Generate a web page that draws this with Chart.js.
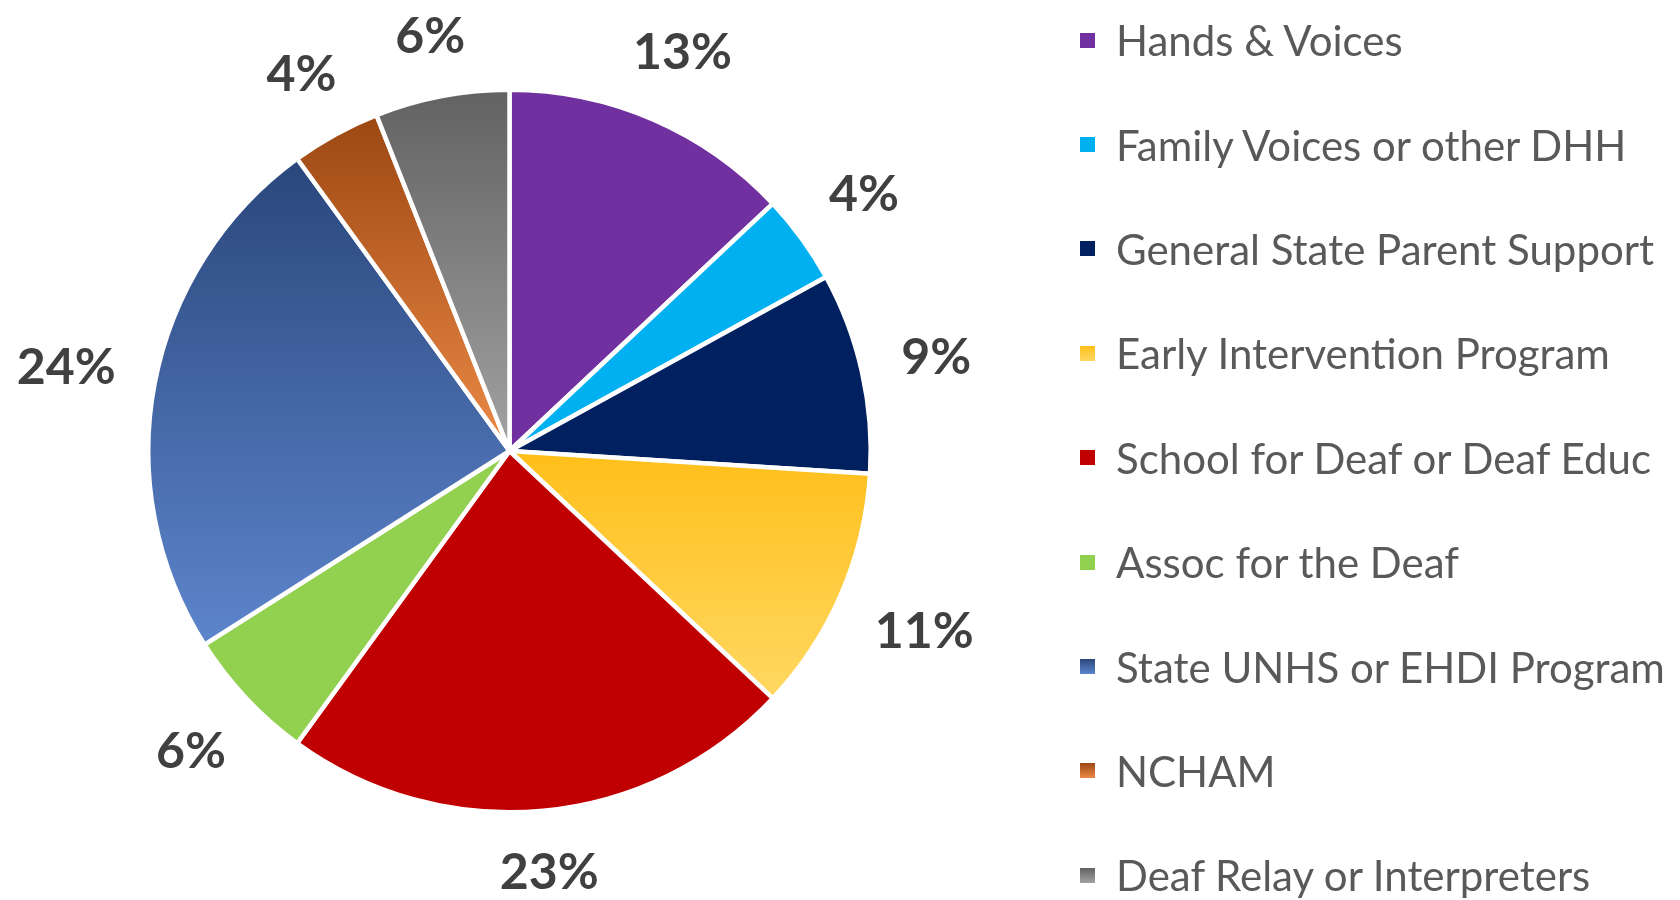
<!DOCTYPE html>
<html>
<head>
<meta charset="utf-8">
<script src="https://cdn.jsdelivr.net/npm/chart.js@4/dist/chart.umd.min.js"></script>
<style>
  html, body { margin: 0; padding: 0; background: #fff; overflow: hidden; }
  #wrap { position: relative; width: 1680px; height: 900px; }
  #pie { position: absolute; left: 0; top: 0; }
  #legend { position: absolute; left: 1080px; top: -12px; margin: 0; padding: 0; list-style: none; }
  #legend li { height: 104.4px; display: flex; align-items: center; font-family: Lato, "Noto Sans", sans-serif;
               font-size: 42px; color: #595959; white-space: nowrap; }
  #legend .box { width: 15px; height: 15px; margin-right: 21px; flex: none; }
</style>
</head>
<body>
<div id="wrap">
  <canvas id="pie" width="1680" height="900"></canvas>
  <ul id="legend"></ul>
</div>
<script>
// categories and shares (%)
const categories = [
  "Hands & Voices",
  "Family Voices or other DHH",
  "General State Parent Support",
  "Early Intervention Program",
  "School for Deaf or Deaf Educ",
  "Assoc for the Deaf",
  "State UNHS or EHDI Program",
  "NCHAM",
  "Deaf Relay or Interpreters"
];
const shares = [13, 4, 9, 11, 23, 6, 24, 4, 6];

// slice colours: top and bottom of each slice's vertical gradient
const colorsTop    = ["#7030A0", "#00B0F0", "#002060", "#FFBF1A", "#C00000", "#92D050", "#2A477C", "#9C4712", "#626262"];
const colorsBottom = ["#7030A0", "#00B0F0", "#002060", "#FFD862", "#C00000", "#92D050", "#5D85CC", "#EC8A46", "#A2A2A2"];

// vertical gradient over each slice's bounding box
const gradientFill = {
  id: 'gradientFill',
  beforeDatasetsDraw(chart) {
    const ctx = chart.ctx;
    chart.getDatasetMeta(0).data.forEach((arc, i) => {
      const p = arc.getProps(['x', 'y', 'startAngle', 'endAngle', 'outerRadius'], true);
      let top = p.y, bottom = p.y;
      [p.startAngle, p.endAngle].forEach(a => {
        const y = p.y + Math.sin(a) * p.outerRadius;
        top = Math.min(top, y);
        bottom = Math.max(bottom, y);
      });
      const has = a => {
        for (let k = -2; k <= 2; k++) {
          const t = a + k * 2 * Math.PI;
          if (t >= p.startAngle && t <= p.endAngle) return true;
        }
        return false;
      };
      if (has(-Math.PI / 2)) top = p.y - p.outerRadius;
      if (has(Math.PI / 2)) bottom = p.y + p.outerRadius;
      const g = ctx.createLinearGradient(0, top, 0, bottom);
      g.addColorStop(0, colorsTop[i]);
      g.addColorStop(1, colorsBottom[i]);
      arc.options.backgroundColor = g;
    });
  }
};

// percentage labels just outside each slice
const outsideLabels = {
  id: 'outsideLabels',
  afterDatasetsDraw(chart) {
    const ctx = chart.ctx;
    const values = chart.data.datasets[0].data;
    ctx.save();
    ctx.font = 'bold 50px Lato, "Noto Sans", sans-serif';
    ctx.fillStyle = '#404040';
    ctx.textAlign = 'center';
    ctx.textBaseline = 'alphabetic';
    const capH = 36;
    chart.getDatasetMeta(0).data.forEach((arc, i) => {
      const p = arc.getProps(['x', 'y', 'startAngle', 'endAngle', 'outerRadius'], true);
      const mid = (p.startAngle + p.endAngle) / 2;
      const dx = Math.cos(mid), dy = Math.sin(mid);
      const text = values[i] + '%';
      const w = ctx.measureText(text).width;
      const dist = p.outerRadius + 38 + Math.abs(dx) * w / 2 + Math.abs(dy) * capH / 2;
      ctx.fillText(text, p.x + dx * dist, p.y + dy * dist + capH / 2);
    });
    ctx.restore();
  }
};

// html legend built from the chart's own legend items
const htmlLegend = {
  id: 'htmlLegend',
  afterUpdate(chart) {
    const ul = document.getElementById('legend');
    ul.innerHTML = '';
    const items = chart.options.plugins.legend.labels.generateLabels(chart);
    items.forEach(item => {
      const li = document.createElement('li');
      const box = document.createElement('span');
      box.className = 'box';
      box.style.background = `linear-gradient(${colorsTop[item.index]}, ${colorsBottom[item.index]})`;
      li.appendChild(box);
      li.appendChild(document.createTextNode(item.text));
      ul.appendChild(li);
    });
  }
};

new Chart(document.getElementById('pie'), {
  type: 'pie',
  data: {
    labels: categories,
    datasets: [{
      data: shares,
      backgroundColor: colorsTop,
      borderColor: '#ffffff',
      borderWidth: 4.5
    }]
  },
  options: {
    responsive: false,
    animation: false,
    layout: { padding: { left: 146, right: 807, top: 87, bottom: 85 } },
    plugins: {
      legend: { display: false },
      tooltip: { enabled: false }
    }
  },
  plugins: [gradientFill, outsideLabels, htmlLegend]
});
</script>
</body>
</html>
